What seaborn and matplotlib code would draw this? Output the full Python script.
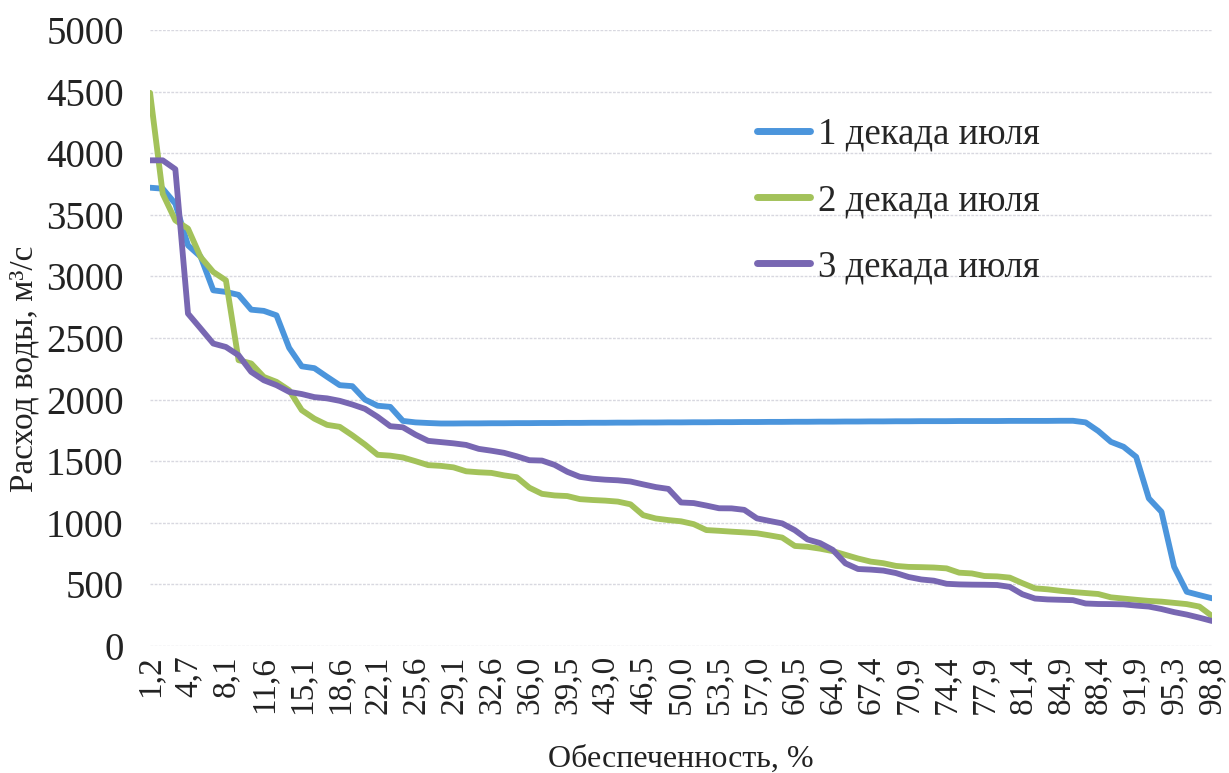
import numpy as np
import pandas as pd
import matplotlib
matplotlib.use("Agg")
import matplotlib.pyplot as plt
import seaborn as sns

# ----------------------------
# Data
# ----------------------------

# обеспеченность, % (85 ranked values)
obesp = [1.2, 2.3, 3.5, 4.7, 5.8, 7.0, 8.1, 9.3, 10.5, 11.6,
         12.8, 14.0, 15.1, 16.3, 17.4, 18.6, 19.8, 20.9, 22.1, 23.3,
         24.4, 25.6, 26.7, 27.9, 29.1, 30.2, 31.4, 32.6, 33.7, 34.9,
         36.0, 37.2, 38.4, 39.5, 40.7, 41.9, 43.0, 44.2, 45.3, 46.5,
         47.7, 48.8, 50.0, 51.2, 52.3, 53.5, 54.7, 55.8, 57.0, 58.1,
         59.3, 60.5, 61.6, 62.8, 64.0, 65.1, 66.3, 67.4, 68.6, 69.8,
         70.9, 72.1, 73.3, 74.4, 75.6, 76.7, 77.9, 79.1, 80.2, 81.4,
         82.6, 83.7, 84.9, 86.0, 87.2, 88.4, 89.5, 90.7, 91.9, 93.0,
         94.2, 95.3, 96.5, 97.7, 98.8]

dekada_1 = [3720, 3712, 3590, 3252, 3160, 2887, 2874, 2850, 2730, 2720,
            2684, 2420, 2270, 2255, 2185, 2117, 2109, 2000, 1950, 1941,
            1827, 1815, 1810, 1806, 1806, 1807, 1807, 1808, 1808, 1809,
            1809, 1810, 1810, 1811, 1811, 1812, 1812, 1813, 1813, 1814,
            1814, 1815, 1815, 1816, 1816, 1817, 1817, 1818, 1818, 1819,
            1819, 1820, 1820, 1821, 1821, 1822, 1822, 1823, 1823, 1824,
            1824, 1825, 1825, 1825, 1826, 1826, 1826, 1826, 1827, 1827,
            1827, 1827, 1828, 1828, 1815, 1745, 1657, 1617, 1535, 1198,
            1089, 643, 440, 413, 387]

dekada_2 = [4490, 3671, 3455, 3388, 3157, 3036, 2968, 2320, 2293, 2184,
            2144, 2076, 1914, 1845, 1795, 1779, 1710, 1635, 1552, 1545,
            1530, 1500, 1468, 1462, 1450, 1418, 1410, 1405, 1385, 1370,
            1285, 1235, 1222, 1217, 1192, 1185, 1180, 1172, 1150, 1062,
            1035, 1022, 1012, 989, 941, 935, 928, 922, 915, 898,
            880, 812, 805, 790, 770, 740, 710, 685, 672, 650,
            642, 640, 637, 630, 595, 589, 568, 565, 555, 510,
            468, 460, 448, 438, 430, 422, 395, 385, 375, 366,
            360, 350, 340, 320, 243]

dekada_3 = [3942, 3942, 3870, 2698, 2577, 2455, 2427, 2360, 2225, 2157,
            2117, 2063, 2045, 2020, 2010, 1990, 1960, 1925, 1860, 1784,
            1775, 1715, 1665, 1655, 1645, 1632, 1600, 1585, 1568, 1540,
            1508, 1505, 1470, 1414, 1373, 1358, 1350, 1345, 1335, 1312,
            1290, 1275, 1165, 1160, 1140, 1118, 1117, 1105, 1036, 1015,
            995, 940, 865, 835, 780, 671, 625, 620, 612, 592,
            560, 540, 530, 505, 500, 498, 497, 495, 480, 420,
            385, 378, 375, 372, 345, 341, 340, 338, 328, 320,
            300, 275, 255, 230, 203]

names = ["1 декада июля", "2 декада июля", "3 декада июля"]
colors = ["#4B95DC", "#A3C25A", "#7867B2"]

# ----------------------------
# Long table for seaborn
# ----------------------------

idx = np.arange(len(obesp))
df = pd.concat([
    pd.DataFrame({"idx": idx, "q": vals, "series": name})
    for name, vals in zip(names, [dekada_1, dekada_2, dekada_3])
], ignore_index=True)

# ----------------------------
# Plot
# ----------------------------

sns.set_style("white")
plt.rcParams["font.family"] = ["Liberation Serif", "DejaVu Serif"]

fig = plt.figure(figsize=(12.29, 7.73), dpi=100)
ax = fig.add_axes([0.1221, 0.1643, 0.8641, 0.7969])

sns.lineplot(data=df, x="idx", y="q", hue="series", palette=colors,
             linewidth=4.2, ax=ax, legend=True)

ax.set_xlim(0, len(obesp) - 1)
ax.set_ylim(0, 5000)
ax.set_yticks(range(0, 5001, 500))
ax.tick_params(axis="y", labelsize=28, length=0, pad=19, colors="#222222")

ticks = idx[::3]
ax.set_xticks(ticks)
ax.set_xticklabels([f"{obesp[i]:.1f}".replace(".", ",") for i in ticks],
                   rotation=90, fontsize=24, color="#222222")
ax.tick_params(axis="x", length=0, pad=7)

ax.grid(axis="y", color="#d8d8e0", linewidth=1.0, linestyle=(0, (2, 1)))
ax.grid(axis="x", visible=False)
for s in ax.spines.values():
    s.set_visible(False)

ax.set_xlabel("Обеспеченность, %", fontsize=23, color="#222222", labelpad=22)
ax.set_ylabel("Расход воды, м³/с", fontsize=24, color="#222222")
ax.yaxis.set_label_coords(-0.104, 0.45)

leg = ax.legend(loc="upper left", bbox_to_anchor=(0.616, 0.848),
                bbox_transform=fig.transFigure, frameon=False,
                fontsize=26.5, handlelength=1.45, handletextpad=0.2,
                labelspacing=0.86, borderpad=0, borderaxespad=0)
for line in leg.get_lines():
    line.set_linewidth(5)

fig.savefig("out.png", dpi=100)
